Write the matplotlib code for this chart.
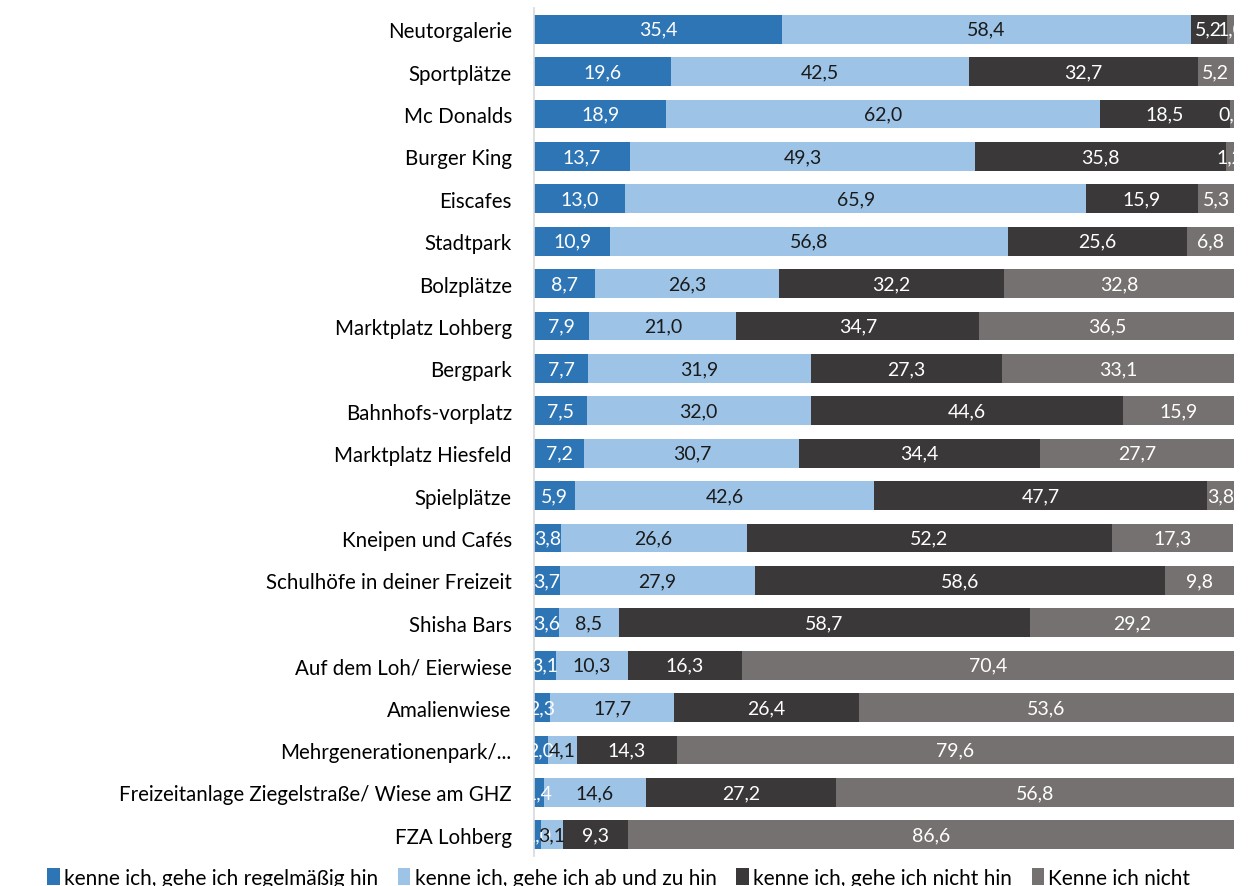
import numpy as np
import matplotlib
matplotlib.use("Agg")
import matplotlib.pyplot as plt
from matplotlib.patches import Patch

plt.rcParams['font.family'] = ['Lato', 'DejaVu Sans']

orte = ["Neutorgalerie", "Sportplätze", "Mc Donalds", "Burger King", "Eiscafes",
        "Stadtpark", "Bolzplätze", "Marktplatz Lohberg", "Bergpark",
        "Bahnhofs-vorplatz", "Marktplatz Hiesfeld", "Spielplätze",
        "Kneipen und Cafés", "Schulhöfe in deiner Freizeit", "Shisha Bars",
        "Auf dem Loh/ Eierwiese", "Amalienwiese", "Mehrgenerationenpark/...",
        "Freizeitanlage Ziegelstraße/ Wiese am GHZ", "FZA Lohberg"]

regelmaessig = [35.4, 19.6, 18.9, 13.7, 13.0, 10.9, 8.7, 7.9, 7.7, 7.5,
                7.2, 5.9, 3.8, 3.7, 3.6, 3.1, 2.3, 2.0, 1.4, 1.0]
ab_und_zu = [58.4, 42.5, 62.0, 49.3, 65.9, 56.8, 26.3, 21.0, 31.9, 32.0,
             30.7, 42.6, 26.6, 27.9, 8.5, 10.3, 17.7, 4.1, 14.6, 3.1]
nicht_hin = [5.2, 32.7, 18.5, 35.8, 15.9, 25.6, 32.2, 34.7, 27.3, 44.6,
             34.4, 47.7, 52.2, 58.6, 58.7, 16.3, 26.4, 14.3, 27.2, 9.3]
unbekannt = [1.0, 5.2, 0.6, 1.2, 5.3, 6.8, 32.8, 36.5, 33.1, 15.9,
             27.7, 3.8, 17.3, 9.8, 29.2, 70.4, 53.6, 79.6, 56.8, 86.6]

serien = [
    ("kenne ich, gehe ich regelmäßig hin", regelmaessig, "#2E75B6", "white"),
    ("kenne ich, gehe ich ab und zu hin", ab_und_zu, "#9DC3E6", "#1a1a1a"),
    ("kenne ich, gehe ich nicht hin", nicht_hin, "#3A3838", "white"),
    ("Kenne ich nicht", unbekannt, "#767171", "white"),
]

fig = plt.figure(figsize=(12.56, 8.87), dpi=100)
ax = fig.add_axes([534 / 1256, 1 - 857 / 887, 700 / 1256, 848 / 887])

y = np.arange(len(orte))
links = np.zeros(len(orte))
handles = []
for name, werte, farbe, txtfarbe in serien:
    werte = np.array(werte)
    bars = ax.barh(y, werte, left=links, height=0.68, color=farbe)
    # Werte mittig in die Segmente, am Achsenrand abgeschnitten
    for b, w in zip(bars, werte):
        ax.text(b.get_x() + b.get_width() / 2, b.get_y() + b.get_height() / 2,
                f"{w:.1f}".replace(".", ","), ha="center", va="center",
                fontsize=14, color=txtfarbe, clip_on=True)
    links += werte
    handles.append(Patch(facecolor=farbe, label=name))

ax.set_xlim(0, 100)
ax.set_ylim(len(orte) - 0.5, -0.5)
ax.set_yticks(y)
ax.set_yticklabels(orte, fontsize=14.8)
ax.tick_params(axis="y", length=0, pad=16)
ax.set_xticks([])
for s in ["top", "right", "bottom"]:
    ax.spines[s].set_visible(False)
ax.spines["left"].set_color("#d9d9d9")
ax.spines["left"].set_linewidth(1.2)

fig.legend(handles=handles, loc="lower left", bbox_to_anchor=(0.031, -0.0115),
           ncol=4, frameon=False, fontsize=15, handlelength=0.6,
           handleheight=0.9, handletextpad=0.2, columnspacing=0.95,
           borderaxespad=0)

fig.savefig("out.png", dpi=100)
